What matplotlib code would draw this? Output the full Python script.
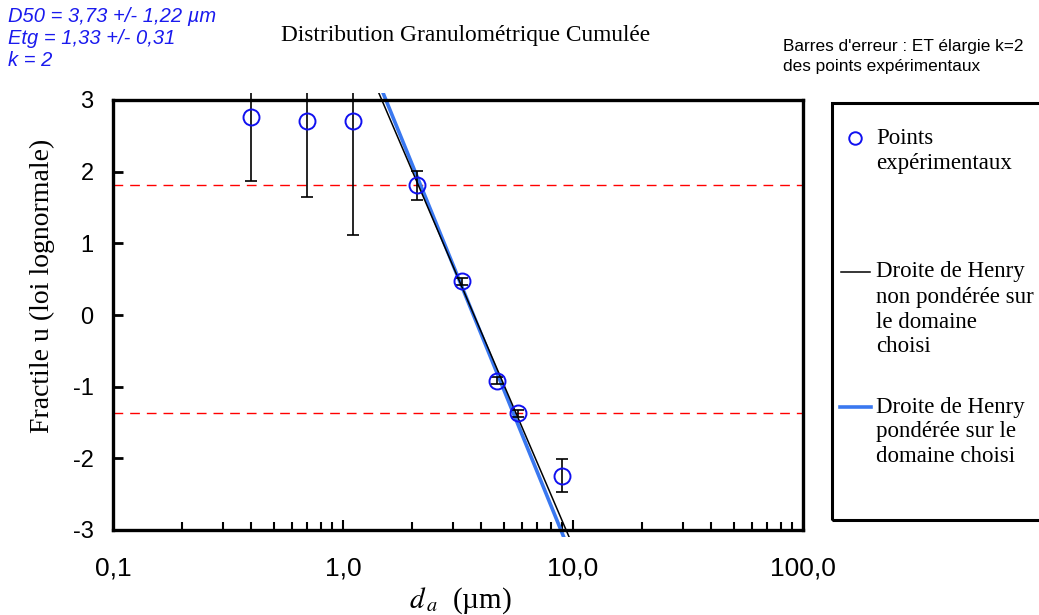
import numpy as np
import matplotlib
matplotlib.use("Agg")
import matplotlib.pyplot as plt
from matplotlib.patches import Rectangle
from matplotlib.ticker import FixedLocator, LogLocator, NullFormatter

# points expérimentaux
diam = [0.40, 0.70, 1.10, 2.10, 3.28, 4.68, 5.77, 8.95]
fractile = [2.76, 2.71, 2.71, 1.81, 0.47, -0.915, -1.37, -2.24]
err = [0.89, 1.06, 1.59, 0.20, 0.05, 0.05, 0.05, 0.23]

# droites de Henry (D50, écart-type géométrique)
d50_nonpond, etg_nonpond = 3.71, 1.360
d50_pond, etg_pond = 3.69, 1.339

# limites du domaine choisi
u_limits = [1.81, -1.37]

yticks = [-3, -2, -1, 0, 1, 2, 3]
xticks = [0.1, 1.0, 10.0, 100.0]
xticklabels = ["0,1", "1,0", "10,0", "100,0"]

serif = "Liberation Serif"
sans = "Liberation Sans"

fig = plt.figure(figsize=(10.39, 6.15), dpi=100)
ax = fig.add_axes([113 / 1039, 1 - 530 / 615, 690 / 1039, 430 / 615])
ax.set_xscale("log")
ax.set_xlim(0.1, 100)
ax.set_ylim(-3, 3)

# zone de tracé un peu plus grande que les axes (comme Excel)
clip = Rectangle((0, -0.017), 1, 1.034, transform=ax.transAxes)

for u in u_limits:
    ax.axhline(u, color="red", lw=1, ls=(0, (7, 5)), zorder=1)

u_line = np.array([-3.3, 3.3])
d_np = 10 ** (np.log10(d50_nonpond) - u_line * np.log10(etg_nonpond))
d_p = 10 ** (np.log10(d50_pond) - u_line * np.log10(etg_pond))
l1, = ax.plot(d_np, u_line, color="black", lw=1.1, zorder=3)
l2, = ax.plot(d_p, u_line, color="#3a78f0", lw=2.6, zorder=2)
for l in (l1, l2):
    l.set_clip_path(clip)

eb = ax.errorbar(diam, fractile, yerr=err, fmt="none", ecolor="black",
                 elinewidth=1.2, capsize=4, capthick=1.2, zorder=4)
for art in eb.lines[1] + eb.lines[2]:
    art.set_clip_path(clip)
ax.plot(diam, fractile, "o", ms=11.5, mfc="none", mec="#1010f0", mew=1.4,
        zorder=5)

for s in ax.spines.values():
    s.set_linewidth(2.4)
ax.set_yticks(yticks)
ax.set_yticklabels([str(t) for t in yticks], fontfamily=sans, fontsize=17)
ax.xaxis.set_major_locator(FixedLocator(xticks))
ax.set_xticklabels(xticklabels, fontfamily=sans, fontsize=19)
ax.xaxis.set_minor_locator(LogLocator(base=10, subs=np.arange(2, 10)))
ax.xaxis.set_minor_formatter(NullFormatter())
ax.tick_params(axis="y", direction="in", length=7, width=2, pad=14)
ax.tick_params(axis="x", which="major", direction="in", length=7, width=1.5,
               pad=19)
ax.tick_params(axis="x", which="minor", direction="in", length=6, width=1.5)

fig.text(42 / 1039, 1 - 286 / 615, "Fractile u (loi lognormale)",
         fontfamily=serif, fontsize=20, rotation=90, ha="center", va="center")
fig.text(460 / 1039, 1 - 601 / 615, r"$\mathit{d}_{\,\mathit{a}}$  (µm)",
         fontfamily=serif, fontsize=21, ha="center", va="center",
         math_fontfamily="stix")

fig.text(466 / 1039, 1 - 35 / 615, "Distribution Granulométrique Cumulée",
         fontfamily=serif, fontsize=16.8, ha="center", va="center")

for i, txt in enumerate(["D50 = 3,73 +/- 1,22 µm", "Etg = 1,33 +/- 0,31",
                         "k = 2"]):
    fig.text(8 / 1039, 1 - (17 + 22 * i) / 615, txt, fontfamily=sans,
             fontstyle="italic", fontsize=14.5, color="#1a1aee", va="center")

fig.text(783 / 1039, 1 - 47 / 615, "Barres d'erreur : ET élargie k=2",
         fontfamily=sans, fontsize=12.4, va="center")
fig.text(783 / 1039, 1 - 67 / 615, "des points expérimentaux",
         fontfamily=sans, fontsize=12.4, va="center")

# légende
fig.patches.append(Rectangle((832 / 1039, 1 - 520 / 615), 0.3, 417 / 615,
                             transform=fig.transFigure, fill=False,
                             lw=2.2, ec="black"))
fig.lines.append(plt.Line2D([855 / 1039], [1 - 138 / 615], marker="o",
                            ms=9, mfc="none", mec="#1010f0", mew=1.4,
                            transform=fig.transFigure))
fig.lines.append(plt.Line2D([841 / 1039, 870 / 1039], [1 - 272 / 615] * 2,
                            color="black", lw=1.1, transform=fig.transFigure))
fig.lines.append(plt.Line2D([840 / 1039, 871 / 1039], [1 - 407 / 615] * 2,
                            color="#3a78f0", lw=2.6, transform=fig.transFigure))
leg_blocks = [(138, ["Points", "expérimentaux"]),
              (272, ["Droite de Henry", "non pondérée sur", "le domaine",
                     "choisi"]),
              (407, ["Droite de Henry", "pondérée sur le", "domaine choisi"])]
for y0, lines in leg_blocks:
    for j, txt in enumerate(lines):
        fig.text(876 / 1039, 1 - (y0 + 25 * j) / 615, txt, fontfamily=serif,
                 fontsize=16.5, va="center")

fig.savefig("out.png", dpi=100)
